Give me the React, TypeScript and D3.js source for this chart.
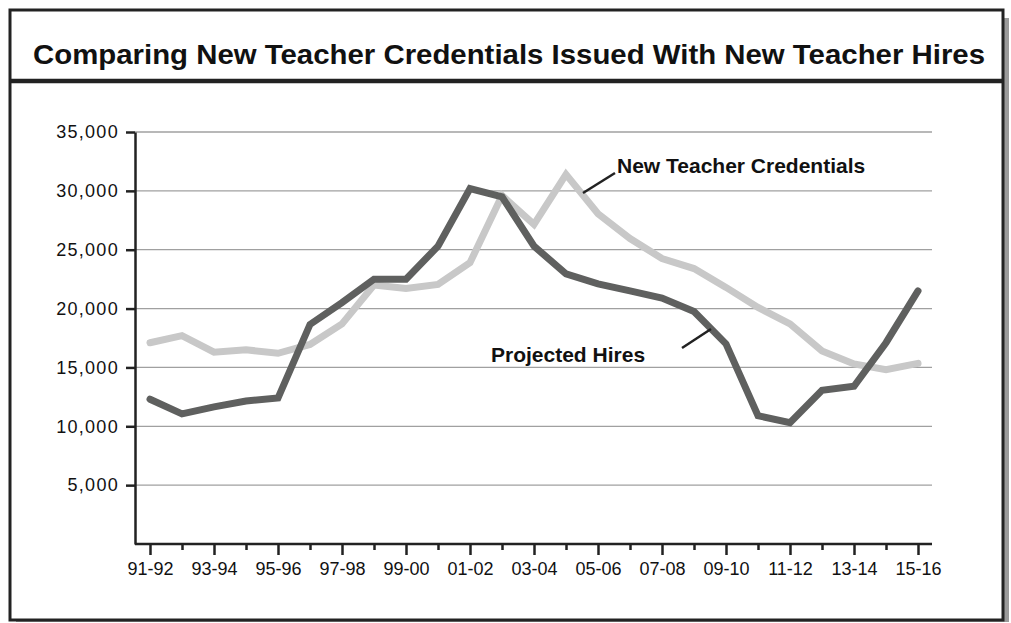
import React, { useEffect, useRef } from "react";
import * as d3 from "d3";

// 학년도 (x축 카테고리)
const years = [
  "91-92", "92-93", "93-94", "94-95", "95-96", "96-97", "97-98", "98-99", "99-00",
  "00-01", "01-02", "02-03", "03-04", "04-05", "05-06", "06-07", "07-08", "08-09",
  "09-10", "10-11", "11-12", "12-13", "13-14", "14-15", "15-16",
];

// 신규 채용 예상치
const projectedHires = [
  12300, 11050, 11650, 12150, 12400, 18650, 20500, 22500, 22500,
  25300, 30200, 29500, 25300, 22950, 22100, 21500, 20900, 19750,
  17000, 10900, 10300, 13050, 13400, 17100, 21500,
];

// 신규 교사 자격증 발급
const newCredentials = [
  17100, 17700, 16300, 16500, 16200, 16950, 18700, 22000, 21700,
  22050, 23900, 29600, 27150, 31400, 28050, 25950, 24250, 23400,
  21800, 20100, 18700, 16400, 15300, 14800, 15350,
];

const yTicks = [5000, 10000, 15000, 20000, 25000, 30000, 35000];

const title = "Comparing New Teacher Credentials Issued With New Teacher Hires";

const App: React.FC = () => {
  const ref = useRef<HTMLDivElement>(null);

  useEffect(() => {
    if (!ref.current) return;
    d3.select(ref.current).selectAll("svg").remove();

    const width = 1011;
    const height = 623;
    const font = "'Liberation Sans', Arial, Helvetica, sans-serif";
    const ink = "#222";

    const svg = d3.select(ref.current)
      .append("svg")
      .attr("width", width)
      .attr("height", height)
      .style("position", "absolute")
      .style("left", 0)
      .style("top", 0)
      .style("font-family", font);

    // 그림자 + 외곽 박스
    svg.append("rect")
      .attr("x", 16).attr("y", 18).attr("width", 993).attr("height", 604)
      .attr("fill", "#9a9a9a");
    svg.append("rect")
      .attr("x", 10).attr("y", 10).attr("width", 993).attr("height", 610)
      .attr("fill", "#fff").attr("stroke", ink).attr("stroke-width", 3);

    // 제목 영역 하단 굵은 선
    svg.append("line")
      .attr("x1", 10).attr("x2", 1003).attr("y1", 81).attr("y2", 81)
      .attr("stroke", ink).attr("stroke-width", 4.5);

    svg.append("text")
      .attr("x", 33).attr("y", 64)
      .attr("textLength", 952)
      .attr("lengthAdjust", "spacingAndGlyphs")
      .style("font-size", "27px")
      .style("font-weight", "bold")
      .attr("fill", "#111")
      .text(title);

    const x = d3.scalePoint<string>().domain(years).range([150, 918]);
    const y = d3.scaleLinear().domain([0, 35000]).range([544, 132]);
    const left = 135;
    const right = 932;

    // 격자선
    svg.append("g")
      .selectAll("line")
      .data(yTicks)
      .join("line")
      .attr("x1", left).attr("x2", right)
      .attr("y1", d => y(d)).attr("y2", d => y(d))
      .attr("stroke", "#a0a0a0").attr("stroke-width", 1.3);

    // y축
    const yAxis = svg.append("g")
      .attr("transform", `translate(${left},0)`)
      .call(d3.axisLeft(y).tickValues(yTicks).tickSize(9).tickSizeOuter(0)
        .tickFormat(d => d3.format(",")(d as number)));
    yAxis.select(".domain").attr("stroke", ink).attr("stroke-width", 2.5);
    yAxis.selectAll(".tick line").attr("stroke", ink).attr("stroke-width", 2.5);
    yAxis.selectAll(".tick text")
      .attr("x", -16)
      .attr("fill", "#111")
      .style("font-size", "18px")
      .style("letter-spacing", "1.3px")
      .style("font-family", font);

    // x축
    const xAxis = svg.append("g")
      .attr("transform", `translate(0,${y(0)})`)
      .call(d3.axisBottom(x).tickSize(11).tickSizeOuter(0)
        .tickFormat((d, i) => (i % 2 === 0 ? d : "")));
    xAxis.select(".domain")
      .attr("d", `M${left},0H${right}`)
      .attr("stroke", ink).attr("stroke-width", 2.5);
    xAxis.selectAll<SVGLineElement, string>(".tick line")
      .attr("y2", (d, i) => (i % 2 === 0 ? 11 : 6))
      .attr("stroke", ink).attr("stroke-width", 2.5);
    xAxis.selectAll(".tick text")
      .attr("y", 18)
      .attr("fill", "#111")
      .style("font-size", "18px")
      .style("font-family", font);

    const line = d3.line<number>()
      .x((d, i) => x(years[i]) as number)
      .y(d => y(d));

    svg.append("path")
      .datum(newCredentials)
      .attr("d", line)
      .attr("fill", "none")
      .attr("stroke", "#c8c8c8")
      .attr("stroke-width", 7)
      .attr("stroke-linejoin", "miter")
      .attr("stroke-linecap", "round");

    svg.append("path")
      .datum(projectedHires)
      .attr("d", line)
      .attr("fill", "none")
      .attr("stroke", "#5f605f")
      .attr("stroke-width", 7)
      .attr("stroke-linejoin", "miter")
      .attr("stroke-linecap", "round");

    // 시리즈 라벨과 지시선
    svg.append("line")
      .attr("x1", 583).attr("y1", 193).attr("x2", 615).attr("y2", 173)
      .attr("stroke", ink).attr("stroke-width", 2.5);
    svg.append("text")
      .attr("x", 617).attr("y", 173)
      .style("font-size", "21px").style("font-weight", "bold")
      .attr("fill", "#111")
      .text("New Teacher Credentials");

    svg.append("line")
      .attr("x1", 682).attr("y1", 348).attr("x2", 711).attr("y2", 329)
      .attr("stroke", ink).attr("stroke-width", 2.5);
    svg.append("text")
      .attr("x", 491).attr("y", 362)
      .style("font-size", "21px").style("font-weight", "bold")
      .attr("fill", "#111")
      .text("Projected Hires");
  }, []);

  return <div ref={ref} />;
};

export default App;
